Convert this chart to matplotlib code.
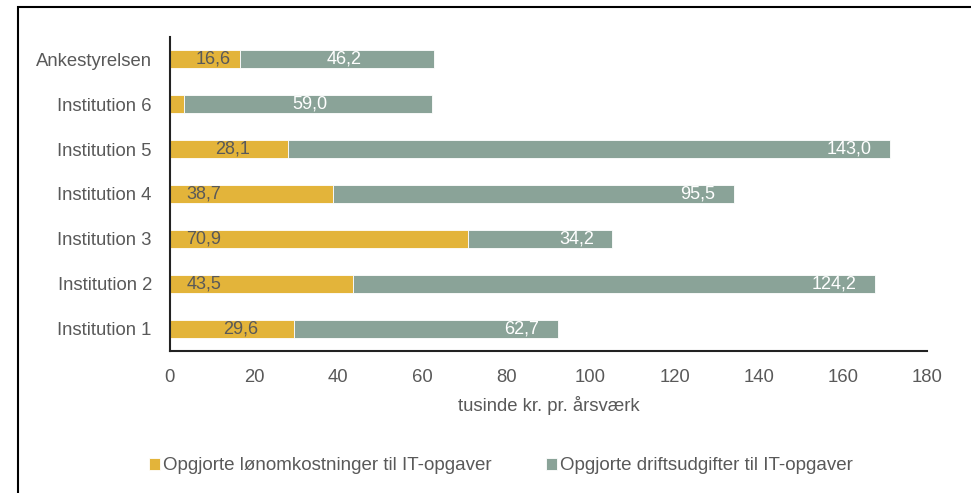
import matplotlib.pyplot as plt
from matplotlib.patches import Rectangle

plt.rcParams["font.family"] = ["Liberation Sans", "DejaVu Sans"]

# data (top to bottom as in the chart)
categories = ["Ankestyrelsen", "Institution 6", "Institution 5", "Institution 4",
              "Institution 3", "Institution 2", "Institution 1"]
loen = [16.6, 3.3, 28.1, 38.7, 70.9, 43.5, 29.6]
drift = [46.2, 59.0, 143.0, 95.5, 34.2, 124.2, 62.7]
loen_labels = ["16,6", "", "28,1", "38,7", "70,9", "43,5", "29,6"]
drift_labels = ["46,2", "59,0", "143,0", "95,5", "34,2", "124,2", "62,7"]

# label x-positions (data units), placed as in the original
loen_lab_x = [10.2, 0, 14.9, 8.0, 8.0, 8.0, 16.8]
drift_lab_x = [41.4, 33.2, 161.5, 125.5, 96.7, 158.0, 83.6]

YELLOW = "#E3B43A"
GREY = "#8AA398"
TXT = "#595959"

fig = plt.figure(figsize=(9.71, 4.93), dpi=100)
ax = fig.add_axes([0.175, 0.288, 0.7797, 0.637])

y = list(range(len(categories)))
ax.barh(y, loen, height=0.4, color=YELLOW, edgecolor="white", linewidth=0.6,
        label="Opgjorte lønomkostninger til IT-opgaver")
ax.barh(y, drift, left=loen, height=0.4, color=GREY, edgecolor="white", linewidth=0.6,
        label="Opgjorte driftsudgifter til IT-opgaver")

for i in y:
    if loen_labels[i]:
        ax.text(loen_lab_x[i], i, loen_labels[i], ha="center", va="center",
                fontsize=13, color=TXT)
    ax.text(drift_lab_x[i], i, drift_labels[i], ha="center", va="center",
            fontsize=13, color="white")

ax.set_yticks(y)
ax.set_yticklabels(categories)
ax.set_ylim(len(categories) - 0.5, -0.5)
ax.set_xlim(0, 180)
ax.set_xticks(range(0, 181, 20))
ax.tick_params(axis="both", length=0, labelsize=13.3, labelcolor=TXT, pad=13)
ax.set_xlabel("tusinde kr. pr. årsværk", fontsize=13.3, color=TXT, labelpad=7)

for s in ["top", "right"]:
    ax.spines[s].set_visible(False)
for s in ["left", "bottom"]:
    ax.spines[s].set_color("#222222")
    ax.spines[s].set_linewidth(1.5)

fig.legend(loc="center", bbox_to_anchor=(0.516, 0.055), ncol=2, frameon=False,
           fontsize=13.5, handlelength=0.6, handleheight=0.6, handletextpad=0.15,
           columnspacing=2.9, labelcolor=TXT)

# outer frame (only left and top edge visible in the crop)
fig.patches.append(Rectangle((18 / 971, -0.1), 1.2, 1.1 - 7 / 493,
                             transform=fig.transFigure, fill=False,
                             edgecolor="black", linewidth=1.5))

fig.savefig("out.png", dpi=100)
